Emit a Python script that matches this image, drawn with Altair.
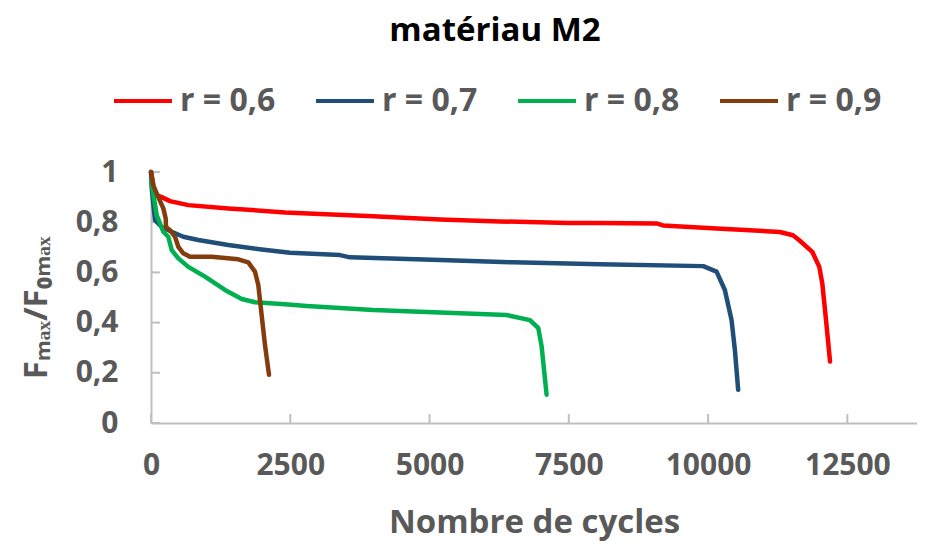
import altair as alt
import pandas as pd

names = ["r = 0,6", "r = 0,7", "r = 0,8", "r = 0,9"]
colors = ["#FF0000", "#1F4E79", "#00B050", "#843C0C"]

x_06 = [0, 72, 192, 341, 670, 1387, 2405, 3984, 5187, 6263, 7502, 8058, 9076, 9189,
        10152, 11288, 11522, 11637, 11870, 11996, 12050, 12117, 12189]
y_06 = [1.0, 0.91, 0.90, 0.884, 0.868, 0.855, 0.839, 0.824, 0.811, 0.803, 0.797, 0.797,
        0.795, 0.787, 0.775, 0.761, 0.748, 0.728, 0.682, 0.622, 0.556, 0.41, 0.245]

x_07 = [0, 13, 72, 192, 372, 580, 849, 1387, 1986, 2495, 3392, 3571, 5187, 6500, 8058,
        9912, 10152, 10301, 10421, 10481, 10540]
y_07 = [1.0, 0.934, 0.808, 0.781, 0.762, 0.742, 0.729, 0.709, 0.691, 0.678, 0.669, 0.660,
        0.649, 0.640, 0.632, 0.625, 0.603, 0.530, 0.41, 0.291, 0.132]

x_08 = [0, 102, 221, 310, 372, 490, 670, 969, 1328, 1628, 1866, 2405, 2794, 3990, 5187,
        6384, 6802, 6952, 7012, 7101]
y_08 = [0.97, 0.828, 0.762, 0.742, 0.689, 0.656, 0.622, 0.583, 0.530, 0.494, 0.481, 0.473,
        0.466, 0.450, 0.44, 0.430, 0.41, 0.378, 0.305, 0.113]

x_09 = [0, 41, 131, 221, 264, 270, 341, 431, 490, 580, 700, 1089, 1567, 1746, 1866, 1926,
        1986, 2046, 2118]
y_09 = [1.0, 0.947, 0.90, 0.855, 0.815, 0.781, 0.768, 0.742, 0.702, 0.676, 0.662, 0.662,
        0.652, 0.640, 0.603, 0.55, 0.43, 0.311, 0.192]

x_ticks = [0, 2500, 5000, 7500, 10000, 12500]
y_ticks = [0, 0.2, 0.4, 0.6, 0.8, 1.0]

rows = []
for name, xs, ys in zip(names, [x_06, x_07, x_08, x_09], [y_06, y_07, y_08, y_09]):
    for i, (xv, yv) in enumerate(zip(xs, ys)):
        rows.append({"serie": name, "cycles": xv, "ratio": yv, "i": i})
df = pd.DataFrame(rows)

W, H = 766, 251
FONT = "Open Sans"
GRAY = "#595959"
AX = "#BFBFBF"

x_scale = alt.Scale(domain=[0, 13750], nice=False, zero=True)
y_scale = alt.Scale(domain=[0, 1], nice=False)

x_axis = alt.Axis(values=x_ticks, format="d", title="Nombre de cycles", labelFlush=False,
                  labelPadding=27, titlePadding=26)
y_axis = alt.Axis(values=y_ticks, labelFlush=False,
                  labelExpr="replace(format(datum.value, '.1~f'), '.', ',')",
                  title="Fₘₐₓ/F₀ₘₐₓ", labelPadding=33, titlePadding=22, titleY=H / 2 + 10)

lines = alt.Chart(df).mark_line(strokeWidth=4.5, strokeCap="round", strokeJoin="round").encode(
    x=alt.X("cycles:Q", scale=x_scale, axis=x_axis),
    y=alt.Y("ratio:Q", scale=y_scale, axis=y_axis),
    color=alt.Color("serie:N", scale=alt.Scale(domain=names, range=colors),
                    legend=alt.Legend(title=None, orient="none", legendX=-39, legendY=-102,
                                      direction="horizontal", symbolType="stroke",
                                      symbolSize=3364, symbolStrokeWidth=4,
                                      labelFont=FONT, labelFontWeight="bold",
                                      labelFontSize=32, labelColor=GRAY,
                                      labelOffset=6, columnPadding=32, padding=0)),
    order="i:Q",
)

xt = alt.Chart(pd.DataFrame({"t": x_ticks})).mark_rule(color=AX, strokeWidth=2).encode(
    x=alt.X("t:Q", scale=x_scale, axis=x_axis),
    y=alt.value(H), y2=alt.value(H - 9),
)
yt = alt.Chart(pd.DataFrame({"t": y_ticks})).mark_rule(color=AX, strokeWidth=2).encode(
    y=alt.Y("t:Q", scale=y_scale, axis=y_axis),
    x=alt.value(0), x2=alt.value(9),
)

chart = alt.layer(xt, yt, lines).properties(
    width=W, height=H,
    autosize=alt.AutoSizeParams(type="none"),
    padding={"left": 143, "top": 164, "right": 0, "bottom": 123},
    title=alt.TitleParams("matériau M2", font=FONT, fontWeight="bold", fontSize=33,
                          color="black", anchor="middle", frame="group", dx=-39, offset=22),
).configure_axis(
    domainColor=AX, domainWidth=2, tickSize=0, grid=False,
    labelFont=FONT, labelFontWeight="bold", labelFontSize=30, labelColor=GRAY,
    titleFont=FONT, titleFontWeight="bold", titleFontSize=33, titleColor=GRAY,
).configure_view(stroke=None)

chart.save("out.html", embed_options={"renderer": "svg", "actions": False})
